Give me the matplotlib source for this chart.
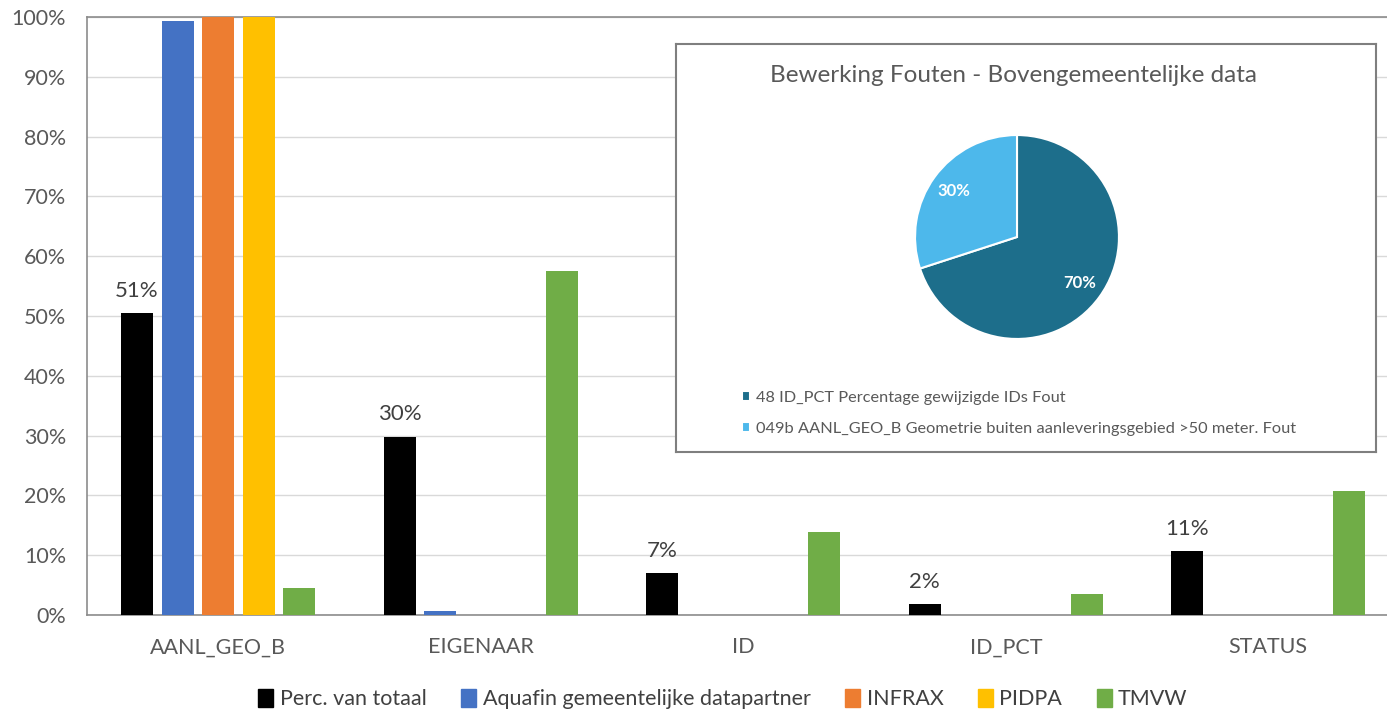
import matplotlib.pyplot as plt
import matplotlib.patches as mpatches
import numpy as np

plt.rcParams['font.family'] = ['Lato', 'DejaVu Sans']

categories = ["AANL_GEO_B", "EIGENAAR", "ID", "ID_PCT", "STATUS"]
series_names = ["Perc. van totaal", "Aquafin gemeentelijke datapartner", "INFRAX", "PIDPA", "TMVW"]
perc_totaal = [50.5, 29.8, 7.0, 1.8, 10.7]
aquafin = [99.3, 0.6, 0, 0, 0]
infrax = [100, 0, 0, 0, 0]
pidpa = [100, 0, 0, 0, 0]
tmvw = [4.5, 57.5, 13.9, 3.5, 20.7]
perc_labels = ["51%", "30%", "7%", "2%", "11%"]

pie_labels = ["48 ID_PCT Percentage gewijzigde IDs Fout",
              "049b AANL_GEO_B Geometrie buiten aanleveringsgebied >50 meter. Fout"]
pie_values = [70, 30]

colors = ["#000000", "#4472C4", "#ED7D31", "#FFC000", "#70AD47"]
pie_colors = ["#1D6E8B", "#4DB8EB"]
txt = "#595959"

W, H = 1387, 709
fig = plt.figure(figsize=(W / 100, H / 100), dpi=100)
ax = fig.add_axes([87 / W, 1 - 615 / H, 1312.5 / W, 598 / H])

x = np.arange(len(categories))
pitch = 0.1547
width = 0.122
all_series = [perc_totaal, aquafin, infrax, pidpa, tmvw]
for i, (name, vals) in enumerate(zip(series_names, all_series)):
    ax.bar(x + (i - 2) * pitch, vals, width, color=colors[i], label=name, zorder=3)

for xi, v, lab in zip(x, perc_totaal, perc_labels):
    ax.annotate(lab, (xi - 2 * pitch, v), xytext=(0, 9), textcoords="offset points",
                ha="center", va="bottom", fontsize=16, color="#404040")

ax.set_xlim(-0.5, len(categories) - 0.5)
ax.set_ylim(0, 100)
ax.set_yticks(range(0, 101, 10))
ax.set_yticklabels([f"{t}%" for t in range(0, 101, 10)])
ax.set_xticks(x)
ax.set_xticklabels(categories)
ax.tick_params(length=0, labelsize=15.5, colors=txt)
ax.tick_params(axis="x", pad=16)
ax.tick_params(axis="y", pad=15)
ax.grid(axis="y", color="#d9d9d9", linewidth=1, zorder=0)
for s in ["left", "bottom", "top"]:
    ax.spines[s].set_color("#8c8c8c")
    ax.spines[s].set_linewidth(1.2)
ax.spines["right"].set_visible(False)

handles = [mpatches.Patch(color=c) for c in colors]
fig.legend(handles, series_names, loc="center", bbox_to_anchor=(723 / W, 1 - 699 / H), ncol=5,
           frameon=False, fontsize=15.5, handlelength=0.7, handleheight=0.9, handletextpad=0.3,
           columnspacing=1.6, labelcolor="#404040")

# inset pie chart box
box = fig.add_axes([676 / W, 1 - 452 / H, 700 / W, 408 / H], zorder=5)
box.set_facecolor("white")
box.set_xticks([])
box.set_yticks([])
for s in box.spines.values():
    s.set_color("#7f7f7f")
    s.set_linewidth(1.5)
fig.text(1014 / W, 1 - 75 / H, "Bewerking Fouten - Bovengemeentelijke data", ha="center", va="center",
         fontsize=17.5, color=txt, zorder=6)

pax = fig.add_axes([(1017 - 104) / W, 1 - (237 + 104) / H, 208 / W, 208 / H], zorder=6)
wedges, _, autotexts = pax.pie(pie_values, colors=pie_colors, startangle=90, counterclock=False,
                               autopct="%d%%", pctdistance=0.76,
                               wedgeprops=dict(edgecolor="white", linewidth=1.5))
for t in autotexts:
    t.set_color("white")
    t.set_fontsize(12)
    t.set_fontweight("bold")
pax.set_xlim(-1.02, 1.02)
pax.set_ylim(-1.02, 1.02)

fig.legend(wedges, pie_labels, loc="upper left", bbox_to_anchor=(727 / W, 1 - 376 / H),
           frameon=False, fontsize=11.8, handlelength=0.5, handleheight=0.5, handletextpad=0.4,
           labelspacing=1.05, labelcolor=txt).set_zorder(7)

fig.savefig("out.png", dpi=100)
